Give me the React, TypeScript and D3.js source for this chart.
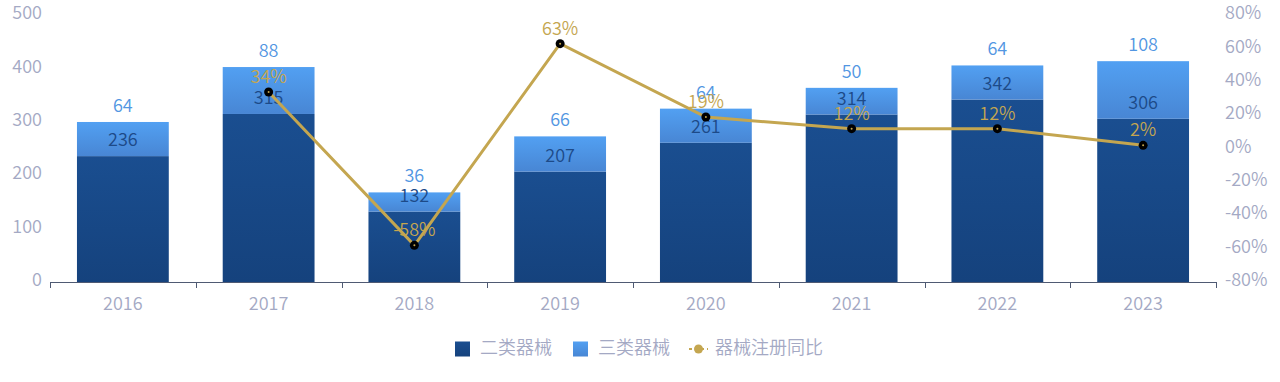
import React from "react";
import * as d3 from "d3";

const years = ["2016", "2017", "2018", "2019", "2020", "2021", "2022", "2023"];
const class2 = [236, 315, 132, 207, 261, 314, 342, 306];
const class3 = [64, 88, 36, 66, 64, 50, 64, 108];
const yoy: (number | null)[] = [null, 34, -58, 63, 19, 12, 12, 2];
const leftTicks = [0, 100, 200, 300, 400, 500];
const rightTicks = [-80, -60, -40, -20, 0, 20, 40, 60, 80];
const legendNames = ["二类器械", "三类器械", "器械注册同比"];

const W = 1280;
const H = 382;
const FONT = "'Noto Sans CJK SC', 'Noto Sans', sans-serif";
const AXIS_TEXT = "#a4a9c4";
const GOLD = "#c4a650";

export default function App() {
  const x = d3.scaleBand<string>().domain(years).range([50, 1216]).paddingInner(0.37).paddingOuter(0.185);
  const band = d3.scaleBand<string>().domain(years).range([50, 1216]);
  const y = d3.scaleLinear().domain([0, 500]).range([282, 15.3]);
  const yr = d3.scaleLinear().domain([-80, 80]).range([282, 15.3]);

  const pts = years
    .map((yr0, i) => ({ yr: yr0, v: yoy[i] }))
    .filter((d) => d.v !== null) as { yr: string; v: number }[];
  const line = d3
    .line<{ yr: string; v: number }>()
    .x((d) => (band(d.yr) as number) + band.bandwidth() / 2)
    .y((d) => yr(d.v));

  return (
    <svg width={W} height={H} style={{ display: "block", position: "absolute", left: 0, top: 0 }} fontFamily={FONT} fontWeight={350}>
      <defs>
        <linearGradient id="g2" x1="0" y1="0" x2="0" y2="1">
          <stop offset="0%" stopColor="#1a4e90" />
          <stop offset="100%" stopColor="#15427d" />
        </linearGradient>
        <linearGradient id="g3" x1="0" y1="0" x2="0" y2="1">
          <stop offset="0%" stopColor="#52a0f2" />
          <stop offset="100%" stopColor="#4886d4" />
        </linearGradient>
      </defs>
      {leftTicks.map((t) => (
        <text key={"l" + t} x={42} y={y(t) - 4} textAnchor="end" dominantBaseline="central" fontSize={18} fill={AXIS_TEXT}>
          {t}
        </text>
      ))}
      {rightTicks.map((t) => (
        <text key={"r" + t} x={1225} y={yr(t) - 4} textAnchor="start" dominantBaseline="central" fontSize={18} fill={AXIS_TEXT}>
          {t + "%"}
        </text>
      ))}
      {years.map((yrs, i) => {
        const bx = x(yrs) as number;
        const bw = x.bandwidth();
        const y2 = y(class2[i]);
        const y3 = y(class2[i] + class3[i]);
        return (
          <g key={yrs}>
            <rect x={bx} y={y2} width={bw} height={y(0) - y2} fill="url(#g2)" />
            <rect x={bx} y={y3} width={bw} height={y2 - y3} fill="url(#g3)" />
          </g>
        );
      })}
      <line x1={50} x2={1216} y1={282.5} y2={282.5} stroke="#4f5a73" strokeWidth={1} />
      {d3.range(years.length + 1).map((i) => {
        const tx = Math.round(50 + i * band.step()) + 0.5;
        return <line key={"t" + i} x1={tx} x2={tx} y1={282} y2={288} stroke="#4f5a73" strokeWidth={1} />;
      })}
      {years.map((yrs) => (
        <text key={"x" + yrs} x={(band(yrs) as number) + band.bandwidth() / 2} y={302} textAnchor="middle" dominantBaseline="central" fontSize={18} fill={AXIS_TEXT}>
          {yrs}
        </text>
      ))}
      {years.map((yrs, i) => {
        const cx = (x(yrs) as number) + x.bandwidth() / 2;
        return (
          <g key={"lb" + yrs}>
            <text x={cx} y={y(class2[i]) - 18} textAnchor="middle" dominantBaseline="central" fontSize={18} fill="#1d4a88">
              {class2[i]}
            </text>
            <text x={cx} y={y(class2[i] + class3[i]) - 18} textAnchor="middle" dominantBaseline="central" fontSize={18} fill="#5296e2">
              {class3[i]}
            </text>
          </g>
        );
      })}
      <path d={line(pts) || ""} fill="none" stroke={GOLD} strokeWidth={3} />
      {pts.map((d) => {
        const cx = (band(d.yr) as number) + band.bandwidth() / 2;
        return (
          <g key={"p" + d.yr}>
            <circle cx={cx} cy={yr(d.v)} r={4.5} fill="#000" />
            <circle cx={cx} cy={yr(d.v)} r={1} fill={GOLD} />
            <text x={cx} y={yr(d.v) - 17} textAnchor="middle" dominantBaseline="central" fontSize={18} fill={GOLD}>
              {d.v + "%"}
            </text>
          </g>
        );
      })}
      <rect x={455} y={341.5} width={15} height={15} fill="url(#g2)" />
      <text x={480} y={346} dominantBaseline="central" fontSize={18} fill={AXIS_TEXT}>{legendNames[0]}</text>
      <rect x={573} y={341.5} width={15} height={15} fill="url(#g3)" />
      <text x={598} y={346} dominantBaseline="central" fontSize={18} fill={AXIS_TEXT}>{legendNames[1]}</text>
      <line x1={689} x2={708} y1={349} y2={349} stroke={GOLD} strokeWidth={2} strokeDasharray="3,3" />
      <circle cx={698.5} cy={349} r={4.5} fill={GOLD} />
      <text x={715} y={346} dominantBaseline="central" fontSize={18} fill={AXIS_TEXT}>{legendNames[2]}</text>
    </svg>
  );
}
